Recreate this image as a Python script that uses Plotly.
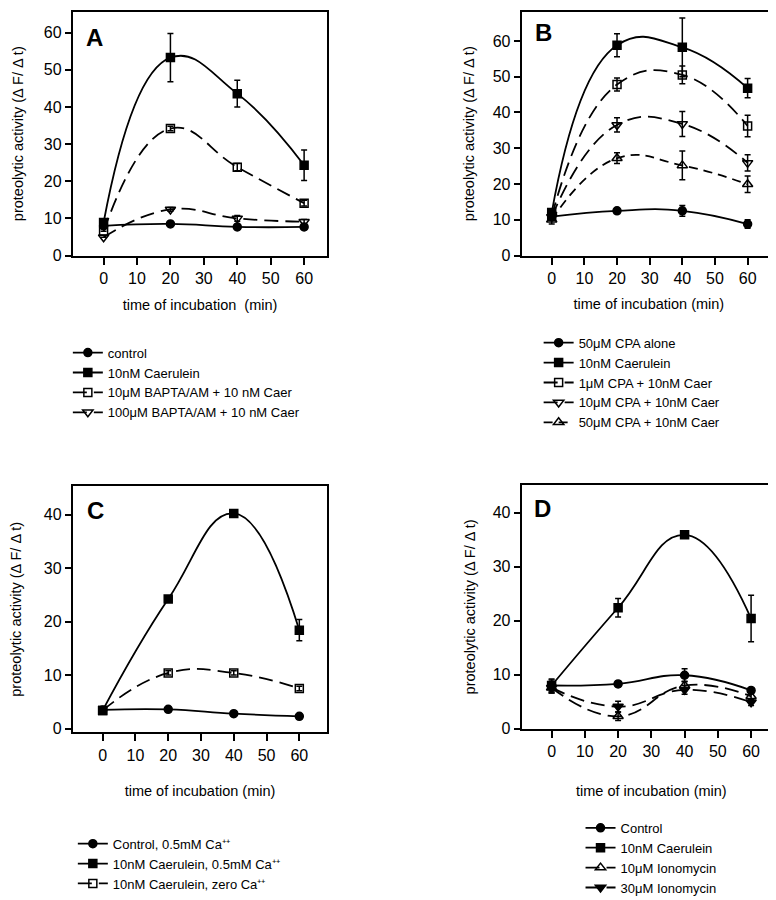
import plotly.graph_objects as go

# ---------------- data ----------------
time = [0, 20, 40, 60]
x_ticks = [0, 10, 20, 30, 40, 50, 60]

# Panel A
a_names = ["control", "10nM Caerulein", "10μM BAPTA/AM + 10 nM Caer", "100μM BAPTA/AM + 10 nM Caer"]
a_control = [8.0, 8.5, 7.7, 7.7]
a_control_err = [None, None, None, None]
a_caer = [8.9, 53.3, 43.6, 24.3]
a_caer_err = [1.0, 6.5, 3.6, 4.1]
a_bapta10 = [6.5, 34.2, 23.8, 14.1]
a_bapta10_err = [None, 0.6, 1.0, 0.8]
a_bapta100 = [4.9, 12.4, 10.0, 9.1]
a_bapta100_err = [None, 0.5, 0.8, 0.6]

# Panel B
b_names = ["50μM CPA alone", "10nM Caerulein", "1μM CPA + 10nM Caer", "10μM CPA + 10nM Caer", "50μM CPA + 10nM Caer"]
b_cpa = [10.9, 12.5, 12.5, 8.8]
b_cpa_err = [None, 0.5, 1.5, 1.2]
b_caer = [12.0, 58.8, 58.2, 46.8]
b_caer_err = [1.0, 3.2, 8.2, 2.7]
b_cpa1 = [11.0, 47.8, 50.5, 36.2]
b_cpa1_err = [1.0, 1.8, 2.5, 3.0]
b_cpa10 = [10.8, 36.5, 36.8, 25.9]
b_cpa10_err = [1.0, 2.0, 3.5, 2.3]
b_cpa50 = [10.0, 27.2, 25.2, 19.9]
b_cpa50_err = [1.2, 1.5, 4.0, 2.3]

# Panel C
c_names = ["Control, 0.5mM Ca⁺⁺", "10nM Caerulein, 0.5mM Ca⁺⁺", "10nM Caerulein, zero Ca⁺⁺"]
c_control = [3.5, 3.6, 2.8, 2.3]
c_control_err = [None, None, None, None]
c_caer = [3.4, 24.2, 40.2, 18.4]
c_caer_err = [None, 0.5, 0.6, 2.0]
c_zero = [3.4, 10.4, 10.4, 7.5]
c_zero_err = [0.5, 0.4, 0.4, 0.4]

# Panel D
d_names = ["Control", "10nM Caerulein", "10μM Ionomycin", "30μM Ionomycin"]
d_control = [8.0, 8.3, 9.9, 7.1]
d_control_err = [1.2, 0.5, 1.2, 0.5]
d_caer = [8.0, 22.4, 35.9, 20.4]
d_caer_err = [1.0, 1.7, 0.4, 4.3]
d_iono10 = [7.6, 2.3, 8.0, 6.0]
d_iono10_err = [1.0, 0.8, 0.8, 0.6]
d_iono30 = [7.6, 4.1, 7.2, 4.9]
d_iono30_err = [1.0, 1.0, 0.8, 0.6]

panel_letters = ["A", "B", "C", "D"]
y_title = "proteolytic activity (Δ F/ Δ t)"
x_title_a = "time of incubation  (min)"
x_title = "time of incubation (min)"

# ---------------- styles ----------------
FONT = "Liberation Sans, Arial, Helvetica, sans-serif"
LONG = "14px,7px"
SHORT = "9px,6px"

fig = go.Figure()


def add(xax, yax, leg, name, y, err, symbol, dash, size=8, lw=1.8):
    fig.add_trace(go.Scatter(
        x=time, y=y, name=name, mode="lines+markers",
        xaxis=xax, yaxis=yax, legend=leg,
        line=dict(color="black", width=lw, dash=dash, shape="spline", smoothing=1.3),
        marker=dict(symbol=symbol, size=size, color="black",
                    line=dict(color="black", width=1.5)),
        error_y=dict(type="data", array=err, visible=True, color="black",
                     thickness=1.5, width=3),
        showlegend=True,
    ))


# A
add("x", "y", "legend", a_names[0], a_control, a_control_err, "circle", "solid")
add("x", "y", "legend", a_names[1], a_caer, a_caer_err, "square", "solid")
add("x", "y", "legend", a_names[2], a_bapta10, a_bapta10_err, "square-open", LONG)
add("x", "y", "legend", a_names[3], a_bapta100, a_bapta100_err, "triangle-down-open", LONG, size=9)
# B
add("x2", "y2", "legend2", b_names[0], b_cpa, b_cpa_err, "circle", "solid")
add("x2", "y2", "legend2", b_names[1], b_caer, b_caer_err, "square", "solid")
add("x2", "y2", "legend2", b_names[2], b_cpa1, b_cpa1_err, "square-open", LONG)
add("x2", "y2", "legend2", b_names[3], b_cpa10, b_cpa10_err, "triangle-down-open", LONG, size=9)
add("x2", "y2", "legend2", b_names[4], b_cpa50, b_cpa50_err, "triangle-up-open", SHORT, size=9)
# C
add("x3", "y3", "legend3", c_names[0], c_control, c_control_err, "circle", "solid")
add("x3", "y3", "legend3", c_names[1], c_caer, c_caer_err, "square", "solid")
add("x3", "y3", "legend3", c_names[2], c_zero, c_zero_err, "square-open", LONG)
# D
add("x4", "y4", "legend4", d_names[0], d_control, d_control_err, "circle", "solid")
add("x4", "y4", "legend4", d_names[1], d_caer, d_caer_err, "square", "solid")
add("x4", "y4", "legend4", d_names[2], d_iono10, d_iono10_err, "triangle-up-open", LONG, size=9)
add("x4", "y4", "legend4", d_names[3], d_iono30, d_iono30_err, "triangle-down", LONG, size=9)


def xaxis(domain, rng, anchor, title, standoff):
    return dict(domain=domain, range=rng, anchor=anchor, tickvals=x_ticks,
                showline=True, mirror=True, linecolor="black", linewidth=2,
                ticks="outside", ticklen=7, tickwidth=1.5, tickcolor="black",
                showgrid=False, zeroline=False,
                tickfont=dict(size=16, color="black", family=FONT),
                title=dict(text=title, font=dict(size=14.5, color="black", family=FONT),
                           standoff=standoff))


def yaxis(domain, rng, anchor, tv, standoff=17):
    return dict(domain=domain, range=rng, anchor=anchor, tickvals=tv,
                showline=True, mirror=True, linecolor="black", linewidth=2,
                ticks="outside", ticklen=6, tickwidth=1.5, tickcolor="black",
                showgrid=False, zeroline=False,
                tickfont=dict(size=16, color="black", family=FONT),
                title=dict(text=y_title, font=dict(size=14.5, color="black", family=FONT),
                           standoff=standoff))


W, H = 776, 900


def px(v):
    return v / W


def py(v):
    return 1 - v / H


legend_common = dict(bgcolor="rgba(0,0,0,0)", borderwidth=0, xanchor="left", yanchor="top",
                     font=dict(size=13, color="black", family=FONT), itemwidth=30,
                     tracegroupgap=0)

fig.update_layout(
    width=W, height=H,
    margin=dict(l=0, r=0, t=0, b=0),
    paper_bgcolor="white", plot_bgcolor="white",
    font=dict(family=FONT, color="black"),
    xaxis=xaxis([px(63), px(318)], [-9.2, 66.9], "y", x_title_a, 14),
    yaxis=yaxis([py(250), py(4)], [0, 65.6], "x", [0, 10, 20, 30, 40, 50, 60]),
    xaxis2=xaxis([px(513), px(768)], [-9.2, 68.7], "y2", x_title, 13),
    yaxis2=yaxis([py(250), py(4)], [0, 68.1], "x2", [0, 10, 20, 30, 40, 50, 60], 15),
    xaxis3=xaxis([px(63), px(318)], [-9.1, 68.5], "y3", x_title, 23),
    yaxis3=yaxis([py(731.7), py(483)], [-0.7, 45.3], "x3", [0, 10, 20, 30, 40], 26),
    xaxis4=xaxis([px(513), px(773)], [-9.0, 69.0], "y4", x_title, 27),
    yaxis4=yaxis([py(728), py(482)], [0, 45.1], "x4", [0, 10, 20, 30, 40], 14),
    legend=dict(legend_common, x=px(58), y=py(333)),
    legend2=dict(legend_common, x=px(530), y=py(323)),
    legend3=dict(legend_common, x=px(63), y=py(829)),
    legend4=dict(legend_common, x=px(572), y=py(813)),
)

# panel letters
for letter, cx, cy in zip(panel_letters, [84.5, 535, 85.5, 534], [30, 25, 508, 506]):
    fig.add_annotation(text=letter, x=px(cx), y=py(cy), xref="paper", yref="paper",
                       showarrow=False, xanchor="center", yanchor="middle",
                       font=dict(size=24, color="black", family=FONT, weight="bold"))

fig.write_html("out.html")
